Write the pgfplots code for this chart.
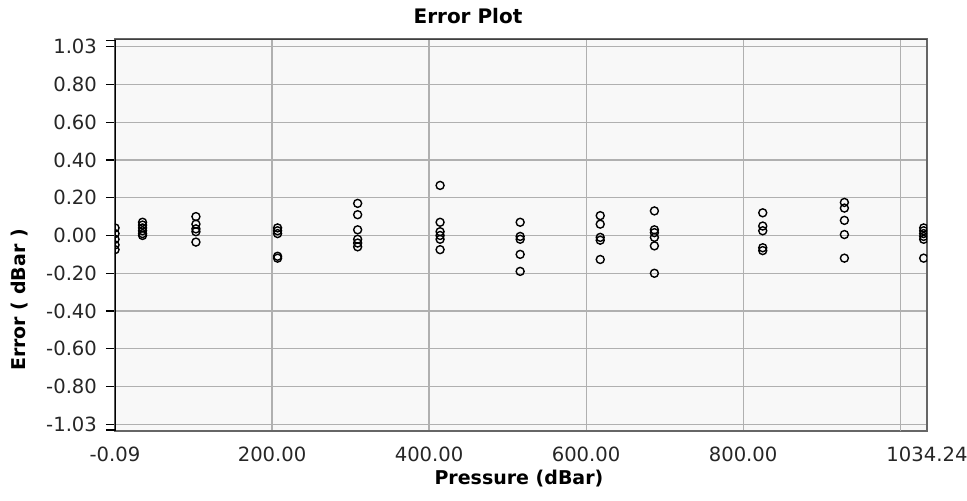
\documentclass[border=0pt]{standalone}
\usepackage{pgfplots}
\pgfplotsset{compat=1.18}
\usepackage{fontspec}
\setmainfont{DejaVu Sans}
\definecolor{bgc}{HTML}{F8F8F8}
\definecolor{gridc}{HTML}{B0B0B0}
\begin{document}
\begin{tikzpicture}
\useasboundingbox (-57.5pt,-34.5pt) rectangle (426pt,215.5pt);
\begin{axis}[
  at={(0,0)}, anchor=south west,
  scale only axis, width=406pt, height=196pt,
  xmin=-0.09, xmax=1034.24,
  ymin=-1.035, ymax=1.04,
  axis background/.style={fill=bgc},
  axis line style={draw=gray!80!black, line width=0.6pt},
  grid=major,
  major grid style={gridc, line width=0.6pt},
  xtick={-0.09,200,400,600,800,1034.24},
  xticklabels={-0.09,200.00,400.00,600.00,800.00,1034.24},
  extra x ticks={1000},
  extra x tick labels={},
  ytick={-1,-0.8,-0.6,-0.4,-0.2,0,0.2,0.4,0.6,0.8,1},
  yticklabels={-1.03,-0.80,-0.60,-0.40,-0.20,0.00,0.20,0.40,0.60,0.80,1.03},
  extra y ticks={-1.03,1.03},
  extra y tick labels={},
  extra y tick style={grid=none},
  xtick pos=bottom, ytick pos=left,
  tick align=outside,
  major tick length=4.5pt,
  tick style={black, line width=0.6pt},
  xtick style={draw=none},
  /pgf/number format/assume math mode=true,
  ticklabel style={font=\fontsize{9.8}{11}\selectfont, text=black!85},
  yticklabel style={xshift=-1pt},
  xticklabel style={yshift=0pt},
  xlabel={\textbf{Pressure (dBar)}},
  xlabel style={at={(axis description cs:0.4975,-0.12)}, anchor=center, font=\fontsize{9.5}{11}\selectfont},
  ylabel={\textbf{Error ( dBar )}},
  ylabel style={at={(axis description cs:-0.117,0.334)}, anchor=center, rotate=0, font=\fontsize{9.5}{11}\selectfont},
  clip marker paths=true,
]
\addplot[only marks, mark=o, mark size=2pt, mark options={black, line width=0.7pt}] coordinates {
(0,0.04) (0,0.01) (0,-0.02) (0,-0.05) (0,-0.075)
(35,0.07) (35,0.055) (35,0.04) (35,0.025) (35,0.01) (35,0.00)
(103,0.10) (103,0.06) (103,0.035) (103,0.02) (103,-0.035)
(207,0.04) (207,0.025) (207,0.01) (207,-0.11) (207,-0.12)
(309,0.17) (309,0.11) (309,0.03) (309,-0.02) (309,-0.04) (309,-0.06)
(414,0.265) (414,0.07) (414,0.02) (414,0.00) (414,-0.02) (414,-0.075)
(516,0.07) (516,-0.005) (516,-0.02) (516,-0.10) (516,-0.19)
(618,0.105) (618,0.06) (618,-0.01) (618,-0.025) (618,-0.127)
(687,0.13) (687,0.03) (687,0.015) (687,-0.01) (687,-0.055) (687,-0.20)
(825,0.12) (825,0.05) (825,0.025) (825,-0.065) (825,-0.08)
(929,0.175) (929,0.145) (929,0.08) (929,0.005) (929,-0.12)
(1030,0.04) (1030,0.025) (1030,0.01) (1030,-0.005) (1030,-0.02) (1030,-0.12)
};
\draw[black, line width=1pt] (rel axis cs:0,0) -- (rel axis cs:0,1);
\draw[black!75, line width=0.9pt] (rel axis cs:0,1) -- (rel axis cs:1,1);
\end{axis}
\node[font=\fontsize{10}{12}\selectfont\bfseries, anchor=center] at (176.5pt,207.25pt) {Error Plot};
\end{tikzpicture}
\end{document}
